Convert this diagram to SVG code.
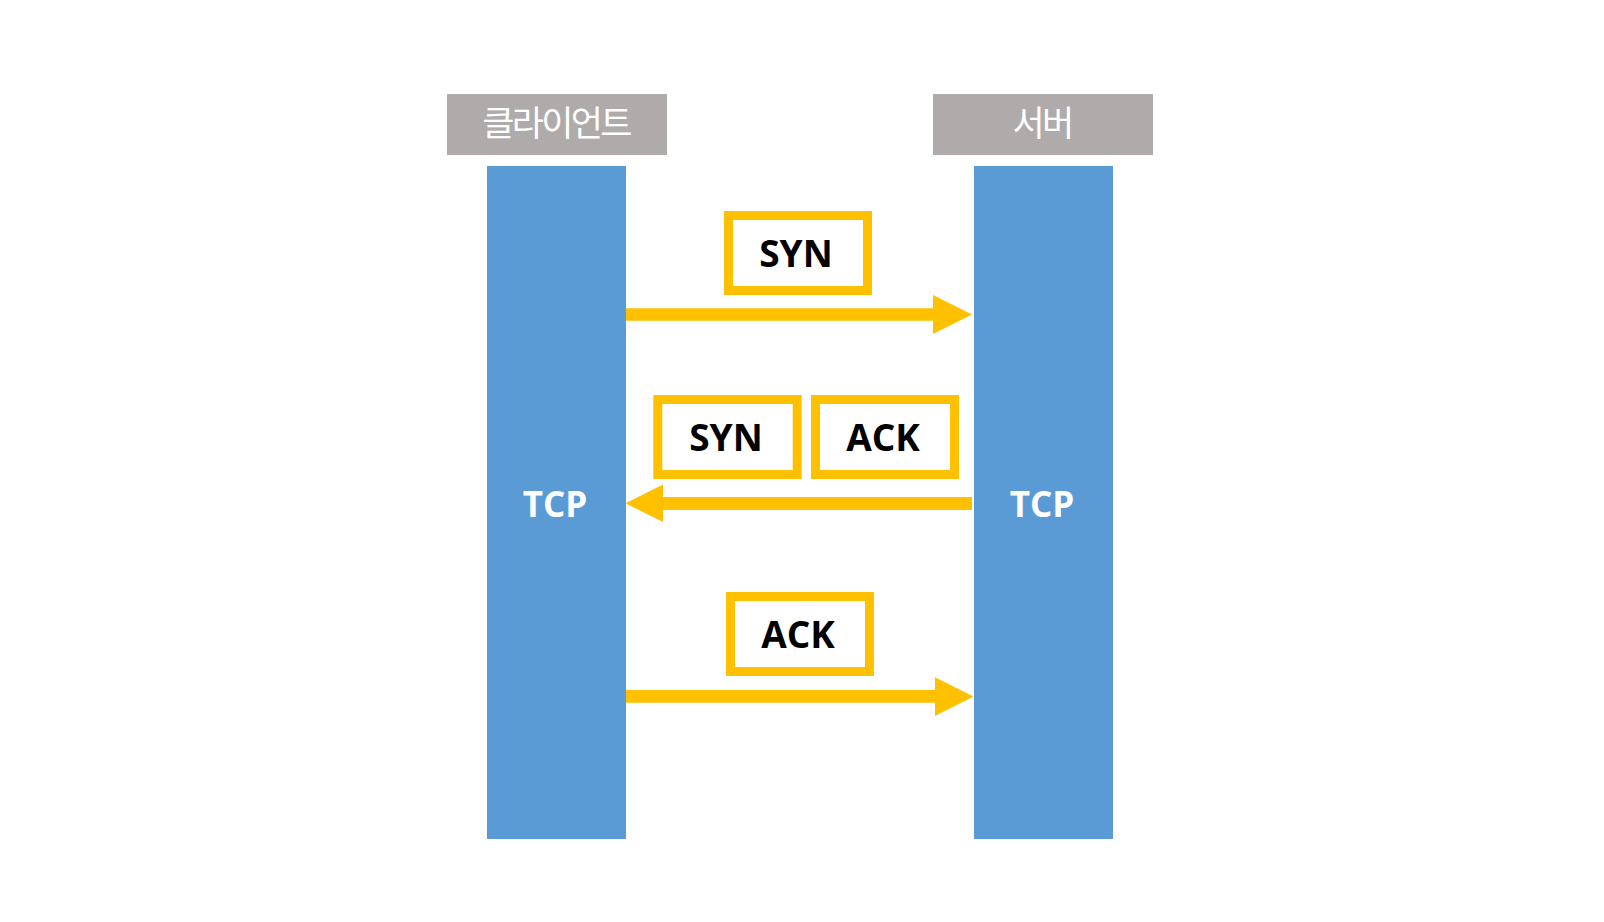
<svg xmlns="http://www.w3.org/2000/svg" width="1604" height="922" viewBox="0 0 1604 922">
<style>
.hdr{fill:#AFABAB}
.bar{fill:#5B9BD5}
.msg{fill:#FFFFFF;stroke:#FFC000;stroke-width:9}
.arr{fill:#FFC000}
.ht{font-family:"Noto Sans CJK KR","Noto Sans",sans-serif;font-size:35px;fill:#FFFFFF;text-anchor:middle;letter-spacing:-2.7px}
.tcp{font-family:"Open Sans","Liberation Sans",sans-serif;font-weight:bold;font-size:35px;fill:#FFFFFF;text-anchor:middle}
.mt{font-family:"Open Sans","Liberation Sans",sans-serif;font-weight:bold;font-size:37px;fill:#000000;text-anchor:middle}
</style>
<rect width="1604" height="922" fill="#FFFFFF"/>
<g id="client">
<rect class="hdr" x="447" y="94" width="220" height="61"/>
<text class="ht" x="556" y="136">클라이언트</text>
<rect class="bar" x="487" y="166" width="139" height="673"/>
<text class="tcp" x="555" y="517">TCP</text>
</g>
<g id="server">
<rect class="hdr" x="933" y="94" width="220" height="61"/>
<text class="ht" x="1042" y="136">서버</text>
<rect class="bar" x="974" y="166" width="139" height="673"/>
<text class="tcp" x="1042" y="517">TCP</text>
</g>
<g id="connectors">
<polygon class="arr" points="626,308.3 933,308.3 933,295 972,314.5 933,334 933,320.7 626,320.7"/>
<polygon class="arr" points="972,497 663,497 663,484.5 625.5,503.3 663,522 663,510 972,510"/>
<polygon class="arr" points="626,690 935,690 935,677.3 973.5,696.5 935,716 935,702.7 626,702.7"/>
</g>
<g id="msg-syn1">
<rect class="msg" x="728.5" y="215.5" width="139" height="75"/>
<text class="mt" x="796" y="267">SYN</text>
</g>
<g id="msg-syn2">
<rect class="msg" x="657.8" y="399.5" width="139.4" height="75"/>
<text class="mt" x="726" y="451">SYN</text>
</g>
<g id="msg-ack2">
<rect class="msg" x="815.5" y="399.5" width="139" height="75"/>
<text class="mt" x="883" y="451">ACK</text>
</g>
<g id="msg-ack3">
<rect class="msg" x="730.5" y="596.5" width="139" height="75"/>
<text class="mt" x="798" y="648">ACK</text>
</g>
</svg>
